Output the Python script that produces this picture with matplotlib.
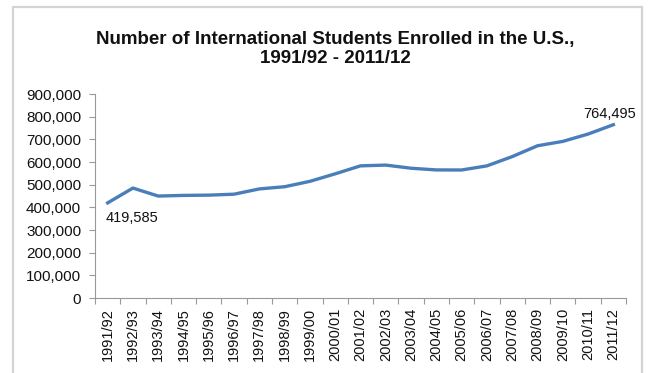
#!/usr/bin/env python

import matplotlib
matplotlib.use("Agg")
import matplotlib.pyplot as plt
from matplotlib.patches import Rectangle
from matplotlib.ticker import FuncFormatter, FixedLocator
import numpy as np

years = [
    "1991/92", "1992/93", "1993/94", "1994/95", "1995/96", "1996/97",
    "1997/98", "1998/99", "1999/00", "2000/01", "2001/02", "2002/03",
    "2003/04", "2004/05", "2005/06", "2006/07", "2007/08", "2008/09",
    "2009/10", "2010/11", "2011/12",
]
students = [
    419585, 485000, 449749, 452635, 453787, 457984, 481280, 490933,
    514723, 547867, 582996, 586323, 572509, 565039, 564766, 582984,
    623805, 671616, 690923, 723277, 764495,
]
yticks = [0, 100000, 200000, 300000, 400000, 500000, 600000, 700000, 800000, 900000]


def main():
    plt.rcParams["font.family"] = ["Liberation Sans", "DejaVu Sans"]
    W, H = 649, 373
    fig = plt.figure(figsize=(W / 100, H / 100), dpi=100)

    # light grey frame around the chart area
    fig.patches.append(
        Rectangle((13 / W, -0.05), 629 / W, 1.05 - 7 / H, transform=fig.transFigure,
                  fill=False, edgecolor="#d4d4d4", linewidth=1.6)
    )

    fig.text(335 / W, 1 - 49 / H,
             "Number of International Students Enrolled in the U.S.,\n1991/92 - 2011/12",
             ha="center", va="center", fontsize=13.5, fontweight="bold",
             color="#111111", linespacing=1.2)

    ax = fig.add_axes((95 / W, 1 - 298 / H, (626 - 95) / W, (298 - 94) / H))
    x = np.arange(len(years))
    ax.plot(x, students, color="#4a7ebb", linewidth=2.4, solid_joinstyle="round")

    ax.set_xlim(-0.5, len(years) - 0.5)
    ax.set_ylim(0, 900000)
    ax.set_yticks(yticks)
    ax.yaxis.set_major_formatter(FuncFormatter(lambda v, p: f"{int(v):,}"))

    ax.set_xticks(x)
    ax.set_xticklabels(years, rotation=90, fontsize=10.5)
    ax.xaxis.set_minor_locator(FixedLocator(np.arange(-0.5, len(years), 1)))
    ax.tick_params(axis="x", which="major", length=0, pad=7)
    ax.tick_params(axis="x", which="minor", length=4, color="#999999", width=0.8)
    ax.tick_params(axis="y", length=4, color="#999999", width=0.8, pad=6,
                   labelsize=11)
    ax.tick_params(labelcolor="#111111")

    for s in ["top", "right"]:
        ax.spines[s].set_visible(False)
    for s in ["left", "bottom"]:
        ax.spines[s].set_color("#999999")
        ax.spines[s].set_linewidth(0.8)

    ax.annotate(f"{students[0]:,}", (x[0], students[0]), xytext=(-1.5, -6),
                textcoords="offset points", ha="left", va="top",
                fontsize=10.5, color="#111111")
    ax.annotate(f"{students[-1]:,}", (x[-1], students[-1]), xytext=(16, 3),
                textcoords="offset points", ha="right", va="bottom",
                fontsize=10.5, color="#111111", annotation_clip=False)

    fig.savefig("out.png", dpi=100, facecolor="white")


if __name__ == "__main__":
    main()
